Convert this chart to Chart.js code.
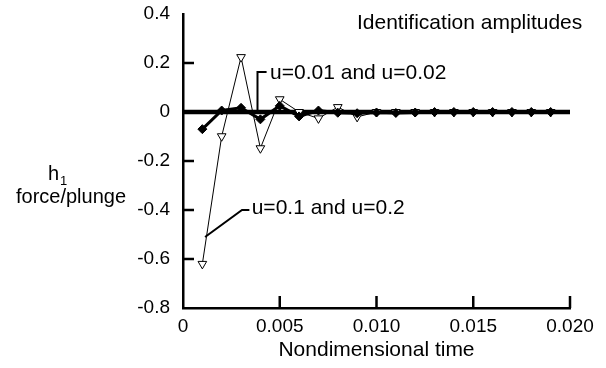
<!DOCTYPE html>
<html>
<head>
<meta charset="utf-8">
<script src="https://cdn.jsdelivr.net/npm/chart.js@4/dist/chart.umd.min.js"></script>
<style>
	* { box-sizing: border-box; }
	html, body { margin: 0; padding: 0; background: #fff; }
	#wrap { width: 606px; height: 368px; }
</style>
</head>
<body>
<div id="wrap"><canvas id="myChart" width="606" height="368"></canvas></div>

<script>
	const FONT = "'Liberation Sans', Arial, Helvetica, sans-serif";

	// nondimensional time of each sample
	const times = [0.001, 0.002, 0.003, 0.004, 0.005, 0.006, 0.007, 0.008, 0.009, 0.010,
		0.011, 0.012, 0.013, 0.014, 0.015, 0.016, 0.017, 0.018, 0.019];
	// u=0.01 and u=0.02 (filled diamonds)
	const smallAmp = [-0.070, 0.006, 0.017, -0.030, 0.025, -0.018, 0.006, -0.003, -0.005, -0.002,
		-0.004, -0.002, 0, 0, 0, 0, 0, 0, 0];
	// u=0.1 and u=0.2 (open triangles)
	const largeAmp = [-0.620, -0.099, 0.224, -0.148, 0.052, 0, -0.026, 0.020, -0.020, 0,
		0, 0, 0, 0, 0, 0, 0, 0, 0];
	const zeroLine = [0, 0];
	const zeroLineX = [0, 0.020];

	const xTicks = [0, 0.005, 0.010, 0.015, 0.020];
	const xTickLabels = ["0", "0.005", "0.010", "0.015", "0.020"];
	const yTicks = [0.4, 0.2, 0, -0.2, -0.4, -0.6, -0.8];
	const yTickLabels = ["0.4", "0.2", "0", "-0.2", "-0.4", "-0.6", "-0.8"];

	const toPoints = (xs, ys) => xs.map((x, i) => ({ x: x, y: ys[i] }));

	// inward tick marks, y title and the two leader-line labels
	const extras = {
		id: "extras",
		afterDraw(chart) {
			const c = chart.ctx;
			const xs = chart.scales.x;
			const ys = chart.scales.y;
			const area = chart.chartArea;
			c.save();
			c.strokeStyle = "#000";
			c.fillStyle = "#000";
			c.lineWidth = 2.5;
			c.beginPath();
			yTicks.forEach((v) => {
				if (v === ys.min || v === ys.max) return;
				const py = ys.getPixelForValue(v);
				c.moveTo(area.left, py);
				c.lineTo(area.left + 11, py);
			});
			xTicks.forEach((v) => {
				if (v === xs.min) return;
				const px = xs.getPixelForValue(v);
				c.moveTo(px, area.bottom);
				c.lineTo(px, area.bottom - 12);
			});
			c.stroke();

			// leader lines
			c.lineWidth = 2;
			c.beginPath();
			c.moveTo(xs.getPixelForValue(0.00385), ys.getPixelForValue(0));
			c.lineTo(xs.getPixelForValue(0.00385), ys.getPixelForValue(0.163));
			c.lineTo(xs.getPixelForValue(0.00432), ys.getPixelForValue(0.163));
			c.moveTo(xs.getPixelForValue(0.00114), ys.getPixelForValue(-0.51));
			c.lineTo(xs.getPixelForValue(0.00305), ys.getPixelForValue(-0.40));
			c.lineTo(xs.getPixelForValue(0.00343), ys.getPixelForValue(-0.40));
			c.stroke();

			c.font = "21px " + FONT;
			c.textAlign = "left";
			c.textBaseline = "alphabetic";
			c.fillText("u=0.01 and u=0.02", xs.getPixelForValue(0.0045), ys.getPixelForValue(0.135));
			c.fillText("u=0.1 and u=0.2", xs.getPixelForValue(0.00355), ys.getPixelForValue(-0.416));
			c.fillText("Identification amplitudes", 357, 29);

			// y title: h with subscript 1, then force/plunge
			c.font = "20px " + FONT;
			c.fillText("h", 48, 180);
			c.font = "13px " + FONT;
			c.fillText("1", 60, 185);
			c.font = "20px " + FONT;
			c.textAlign = "center";
			c.fillText("force/plunge", 71, 203);
			c.restore();
		}
	};

	const ctx = document.getElementById("myChart").getContext("2d");
	const myChart = new Chart(ctx, {
		type: "line",
		data: {
			datasets: [
				{
					label: "u=0.01 and u=0.02",
					data: toPoints(times, smallAmp),
					borderColor: "#000",
					backgroundColor: "#000",
					borderWidth: 3,
					pointStyle: "rectRot",
					pointRadius: 4.5,
					pointBorderWidth: 1,
					tension: 0,
					order: 1,
				},
				{
					label: "u=0.1 and u=0.2",
					data: toPoints(times, largeAmp),
					borderColor: "#000",
					backgroundColor: "#fff",
					borderWidth: 1,
					pointStyle: "triangle",
					rotation: 180,
					pointRadius: 5,
					pointBorderWidth: 1,
					tension: 0,
					order: 2,
				},
				{
					label: "zero",
					data: toPoints(zeroLineX, zeroLine),
					borderColor: "#000",
					borderWidth: 4.5,
					pointRadius: 0,
					order: 3,
				},
			],
		},
		options: {
			responsive: false,
			animation: { duration: 0 },
			layout: { padding: { left: 0, right: 36, top: 14, bottom: 0 } },
			plugins: {
				legend: { display: false },
				tooltip: { enabled: false },
			},
			scales: {
				x: {
					type: "linear",
					min: 0,
					max: 0.020,
					afterBuildTicks: (s) => { s.ticks = xTicks.map((v) => ({ value: v })); },
					afterFit: (s) => { s.height = 60; s.paddingLeft = 0; s.paddingRight = 0; },
					grid: { display: false, drawTicks: false },
					border: { display: true, color: "#000", width: 2.5 },
					ticks: {
						autoSkip: false,
						maxRotation: 0,
						padding: 7,
						color: "#000",
						font: { family: FONT, size: 19 },
						callback: (v) => xTickLabels[xTicks.indexOf(v)],
					},
					title: {
						display: true,
						text: "Nondimensional time",
						color: "#000",
						font: { family: FONT, size: 21 },
						padding: { top: 0, bottom: 5 },
					},
				},
				y: {
					type: "linear",
					min: -0.8,
					max: 0.4,
					afterBuildTicks: (s) => { s.ticks = yTicks.map((v) => ({ value: v })); },
					afterFit: (s) => { s.width = 183; s.paddingTop = 0; s.paddingBottom = 0; },
					grid: { display: false, drawTicks: false },
					border: { display: true, color: "#000", width: 2.5 },
					ticks: {
						autoSkip: false,
						padding: 13,
						color: "#000",
						font: { family: FONT, size: 19 },
						callback: (v) => yTickLabels[yTicks.indexOf(v)],
					},
				},
			},
		},
		plugins: [extras],
	});
</script>
</body>
</html>
